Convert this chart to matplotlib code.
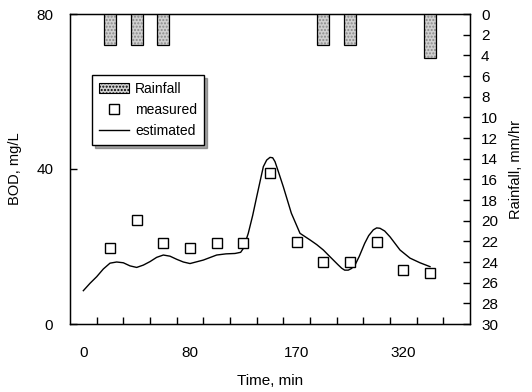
import matplotlib
matplotlib.use("Agg")
import matplotlib.pyplot as plt
from matplotlib.patches import Patch
from matplotlib.lines import Line2D

plt.rcParams['font.family'] = ['Liberation Sans', 'DejaVu Sans']

# Time positions (20-min steps) of measured samples
meas_t = [20, 40, 60, 80, 100, 120, 140, 160, 180, 200, 220, 240, 260]
meas_bod = [19.7, 26.8, 20.9, 19.7, 20.9, 21.0, 39.0, 21.1, 16.0, 16.0, 21.1, 13.9, 13.2]

# Estimated curve
est_t = [0, 5, 10, 15, 20, 25, 30, 35, 40, 45, 50, 55, 60, 65, 70, 75, 80, 90, 100,
         107, 113.75, 118, 120, 123.7, 127, 130, 133, 135, 137.5, 140, 142, 143.75, 146,
         150, 156, 162.5, 170, 175, 180, 184, 187.5, 191, 193.75, 196, 198.7, 201,
         203.75, 207, 211, 214, 217.5, 220, 222.5, 226, 230, 237.5, 245, 252.5, 260]
est_bod = [8.6, 10.5, 12.2, 14.2, 15.7, 16.0, 15.8, 15.0, 14.6, 15.2, 16.1, 17.2, 17.8,
           17.5, 16.7, 16.0, 15.6, 16.5, 17.8, 18.1, 18.2, 18.5, 19.5, 23.4, 28.0, 32.8,
           37.5, 40.6, 42.3, 43.0, 42.9, 41.9, 39.6, 35.4, 28.6, 23.4, 21.7, 20.5, 19.1,
           17.7, 16.5, 15.3, 14.4, 13.9, 13.9, 14.3, 15.2, 17.5, 20.8, 22.8, 24.3, 24.8,
           24.7, 24.0, 22.5, 19.1, 17.0, 15.8, 14.8]

# Rainfall bars
rain_t = [20, 40, 60, 180, 200, 260]
rain_mm = [3.0, 3.0, 3.0, 3.0, 3.0, 4.3]

# x tick labels
xtick_pos = [0, 80, 160, 240]
xtick_labels = ['0', '80', '170', '320']
minor_pos = [10 + 20 * i for i in range(14)]

fig = plt.figure(figsize=(5.32, 3.92), dpi=100)
ax = fig.add_axes([70 / 532, 68 / 392, 400 / 532, 310 / 392])

ax.plot(est_t, est_bod, color='black', lw=1.0)
ax.plot(meas_t, meas_bod, linestyle='none', marker='s', markersize=7,
        markerfacecolor='white', markeredgecolor='black', markeredgewidth=1.0)

ax.set_xlim(-10, 290)
ax.set_ylim(0, 80)
ax.set_yticks([0, 40, 80])
ax.set_xticks(xtick_pos)
ax.set_xticklabels(xtick_labels)
ax.set_xticks(minor_pos, minor=True)
ax.tick_params(axis='x', which='major', length=0, pad=16, labelsize=11)
ax.tick_params(axis='x', which='minor', direction='in', length=5, width=1)
ax.tick_params(axis='y', direction='in', length=5, width=1, pad=12, labelsize=11)
ax.set_xlabel('Time, min', fontsize=11, labelpad=10)
ax.set_ylabel('BOD, mg/L', fontsize=10.5, labelpad=10)
for s in ax.spines.values():
    s.set_linewidth(1.0)

ax2 = ax.twinx()
ax2.bar(rain_t, rain_mm, width=9, color='#d0d0d0', hatch='.....',
        edgecolor='#8a8a8a', linewidth=0)
ax2.bar(rain_t, rain_mm, width=9, fill=False, edgecolor='black', linewidth=0.9)
ax2.set_ylim(30, 0)
ax2.set_yticks(list(range(0, 31, 2)))
ax2.tick_params(axis='y', direction='in', length=5, width=1, pad=8, labelsize=11)
ax2.set_ylabel('Rainfall, mm/hr', fontsize=10.5, rotation=90, labelpad=8)
ax2.set_xlim(-10, 290)

handles = [
    Patch(facecolor='#d0d0d0', edgecolor='black', hatch='.....', linewidth=0.8),
    Line2D([], [], linestyle='none', marker='s', markersize=7,
           markerfacecolor='white', markeredgecolor='black'),
    Line2D([], [], color='black', lw=1.0),
]
leg = ax2.legend(handles, ['Rainfall', 'measured', 'estimated'],
                 loc='upper left', bbox_to_anchor=(0.055, 0.803),
                 borderaxespad=0, fancybox=False, shadow=True, framealpha=1,
                 edgecolor='black', fontsize=10, handlelength=2.2,
                 handletextpad=0.4, borderpad=0.5, labelspacing=0.5)
leg.get_frame().set_linewidth(1.0)

fig.savefig('out.png', dpi=100)
